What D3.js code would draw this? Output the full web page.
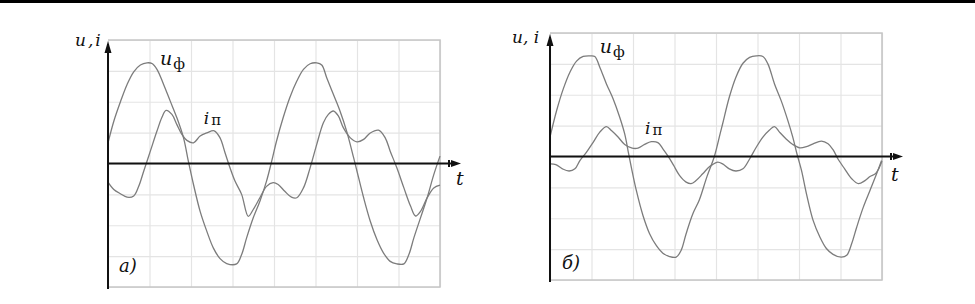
<!DOCTYPE html>
<html>
<head>
<meta charset="utf-8">
<script src="https://cdn.jsdelivr.net/npm/d3@7"></script>
<style>
  html, body { margin: 0; padding: 0; background: #fff; }
  svg { display: block; }
  .it { font-family: 'DejaVu Serif', 'Liberation Serif', serif; font-style: italic; fill: #111; }
  .up { font-family: 'DejaVu Serif', 'Liberation Serif', serif; fill: #111; }
</style>
</head>
<body>
<div id="chart"></div>
<script>
// grid: 8 divisions in t, -4..4 in u,i
const gridT = [0, 1, 2, 3, 4, 5, 6, 7, 8];
const gridV = [-4, -3, -2, -1, 0, 1, 2, 3, 4];

// panel a) phase voltage u_ф  [t, value]
const uA = [[0,0.67],[0.14,1.37],[0.3,2.0],[0.46,2.56],[0.62,2.97],[0.78,3.19],[0.94,3.26],[1.06,3.24],[1.18,3.05],
  [1.34,2.56],[1.5,2.02],[1.66,1.48],[1.82,0.83],[1.94,0.05],[2.06,-0.68],[2.22,-1.55],[2.38,-2.19],[2.54,-2.74],
  [2.7,-3.08],[2.86,-3.24],[3.1,-3.25],[3.22,-2.95],[3.34,-2.41],[3.5,-1.76],[3.66,-1.22],[3.82,-0.57],[3.94,0.05],
  [4.06,0.72],[4.22,1.48],[4.38,2.13],[4.55,2.67],[4.71,3.05],[4.87,3.23],[5.03,3.26],[5.15,3.19],[5.27,2.78],
  [5.43,2.24],[5.59,1.7],[5.75,1.05],[5.92,0.18],[6.0,-0.25],[6.16,-1.11],[6.32,-1.87],[6.48,-2.46],[6.64,-2.9],
  [6.8,-3.17],[6.96,-3.25],[7.13,-3.25],[7.25,-2.95],[7.37,-2.41],[7.53,-1.76],[7.69,-1.11],[7.85,-0.36],[8.0,0.24]];

// panel a) current i_п
const iA = [[0,-0.6],[0.14,-0.84],[0.3,-0.98],[0.46,-1.09],[0.62,-1.05],[0.74,-0.74],[0.86,-0.25],[1.02,0.4],
  [1.18,1.05],[1.3,1.5],[1.4,1.72],[1.54,1.59],[1.66,1.26],[1.78,0.94],[1.9,0.75],[2.06,0.67],[2.22,0.89],
  [2.38,0.99],[2.56,1.06],[2.7,0.83],[2.82,0.35],[2.94,-0.14],[3.06,-0.57],[3.22,-1.0],[3.38,-1.71],[3.5,-1.49],
  [3.66,-1.11],[3.82,-0.74],[3.98,-0.62],[4.1,-0.68],[4.26,-0.9],[4.42,-1.09],[4.55,-1.11],[4.71,-0.79],
  [4.87,-0.14],[5.03,0.62],[5.19,1.32],[5.31,1.59],[5.43,1.7],[5.55,1.54],[5.67,1.16],[5.84,0.83],[6.0,0.7],
  [6.16,0.78],[6.32,0.99],[6.52,1.08],[6.68,0.83],[6.8,0.4],[6.96,-0.14],[7.13,-0.79],[7.29,-1.38],[7.41,-1.7],
  [7.53,-1.55],[7.69,-1.11],[7.85,-0.79],[8.0,-0.7]];

// panel б) phase voltage u_ф
const uB = [[0,0.63],[0.16,1.49],[0.32,2.19],[0.48,2.73],[0.64,3.09],[0.8,3.24],[0.96,3.26],[1.08,3.24],[1.2,2.89],
  [1.36,2.35],[1.52,1.87],[1.68,1.27],[1.8,0.73],[1.9,0.05],[1.96,-0.35],[2.08,-1.1],[2.24,-1.91],[2.4,-2.5],
  [2.56,-2.88],[2.72,-3.13],[2.88,-3.24],[3.04,-3.26],[3.16,-3.04],[3.28,-2.5],[3.44,-1.86],[3.6,-1.4],
  [3.78,-0.66],[3.96,0],[4.1,0.74],[4.16,1.06],[4.32,1.92],[4.48,2.57],[4.65,3.02],[4.81,3.21],[4.97,3.26],
  [5.13,3.24],[5.25,3.0],[5.41,2.35],[5.57,1.81],[5.73,1.17],[5.85,0.63],[5.95,0.09],[6.06,-0.45],[6.18,-1.21],
  [6.34,-2.07],[6.5,-2.6],[6.66,-2.98],[6.82,-3.17],[7.02,-3.26],[7.15,-3.2],[7.27,-2.82],[7.39,-2.29],
  [7.55,-1.64],[7.71,-1.1],[7.87,-0.56],[7.99,-0.13]];

// panel б) current i_п
const iB = [[0,-0.24],[0.14,-0.26],[0.3,-0.4],[0.46,-0.47],[0.6,-0.4],[0.72,-0.13],[0.88,0.14],[1.04,0.46],
  [1.2,0.79],[1.36,0.97],[1.48,0.84],[1.64,0.63],[1.8,0.39],[1.98,0.27],[2.12,0.27],[2.28,0.39],[2.44,0.48],
  [2.6,0.45],[2.72,0.25],[2.86,-0.02],[2.98,-0.29],[3.12,-0.61],[3.28,-0.83],[3.4,-0.88],[3.52,-0.78],
  [3.68,-0.56],[3.84,-0.33],[3.92,-0.26],[4.04,-0.18],[4.16,-0.24],[4.32,-0.4],[4.48,-0.47],[4.65,-0.4],
  [4.81,-0.08],[4.97,0.3],[5.13,0.63],[5.29,0.86],[5.41,0.97],[5.53,0.79],[5.69,0.57],[5.85,0.39],[6.02,0.28],
  [6.18,0.32],[6.34,0.41],[6.54,0.5],[6.7,0.41],[6.82,0.22],[6.94,-0.08],[7.1,-0.4],[7.27,-0.72],[7.43,-0.88],
  [7.59,-0.78],[7.71,-0.65],[7.84,-0.56],[7.92,-0.4],[8.0,-0.15]];

const panels = [
  { left: 108, top: 40, u: uA, i: iA, tag: 'а', yLabel: 'u,i', ySpacing: 2,
    yLab: [75, 46], uLab: [1.25, 3.19], iLab: [2.31, 1.28], tagLab: [119, 272], tLab: [456, 185] },
  { left: 550, top: 33, u: uB, i: iB, tag: 'б', yLabel: 'u, i', ySpacing: 0,
    yLab: [512, 43], uLab: [1.2, 3.35], iLab: [2.29, 0.72], tagLab: [562, 269], tLab: [891, 181] }
];

const W = 332, H = 247;

let svg = d3.select('#chart').append('svg')
  .attr('width', 975)
  .attr('height', 304);

// black rule at the top of the page
svg.append('rect')
  .attr('x', 0).attr('y', 0)
  .attr('width', 975).attr('height', 3)
  .attr('fill', '#000');

panels.forEach(p => drawPanel(p));

function drawPanel(p) {
  let x = d3.scaleLinear().domain([0, 8]).range([p.left, p.left + W]);
  let y = d3.scaleLinear().domain([-4, 4]).range([p.top + H, p.top]);

  let g = svg.append('g').attr('class', 'panel');

  // Grid (vertical)
  g.append('g')
    .attr('class', 'grid grid--x')
    .attr('transform', 'translate(0,' + y(-4) + ')')
    .call(d3.axisBottom(x).tickValues(gridT).tickSize(-H).tickFormat(''))
    .call(s => s.select('.domain').remove())
    .selectAll('line').attr('stroke', '#e4e4e4').attr('stroke-width', 1.2);

  // Grid (horizontal)
  g.append('g')
    .attr('class', 'grid grid--y')
    .attr('transform', 'translate(' + x(0) + ',0)')
    .call(d3.axisLeft(y).tickValues(gridV).tickSize(-W).tickFormat(''))
    .call(s => s.select('.domain').remove())
    .selectAll('line').attr('stroke', '#e4e4e4').attr('stroke-width', 1.2);

  // frame: top, right, bottom
  g.append('path')
    .attr('d', 'M' + x(0) + ',' + y(4) + 'H' + x(8) + 'V' + y(-4) + 'H' + x(0))
    .attr('fill', 'none')
    .attr('stroke', '#c6c6c6')
    .attr('stroke-width', 1.6);

  // Curves
  let line = d3.line()
    .x(d => x(d[0]))
    .y(d => y(d[1]))
    .curve(d3.curveCatmullRom.alpha(0.5));

  g.append('g')
    .attr('class', 'lines')
    .selectAll('path')
    .data([p.u, p.i])
    .enter().append('path')
      .attr('d', d => line(d))
      .attr('fill', 'none')
      .attr('stroke', '#7c7c7c')
      .attr('stroke-width', 1.3)
      .attr('stroke-linejoin', 'round');

  // Axes with arrows
  let axisColor = '#111';
  g.append('line')
    .attr('x1', x(0)).attr('x2', x(0))
    .attr('y1', p.top + 4).attr('y2', y(-4) + 2)
    .attr('stroke', axisColor).attr('stroke-width', 2);
  g.append('path')
    .attr('d', 'M' + x(0) + ',' + (p.top + 1) + 'l-3.5,12h7z')
    .attr('fill', axisColor);

  let tipX = x(8) + 21;
  g.append('line')
    .attr('x1', x(0)).attr('x2', tipX - 4)
    .attr('y1', y(0)).attr('y2', y(0))
    .attr('stroke', axisColor).attr('stroke-width', 2);
  g.append('path')
    .attr('d', 'M' + tipX + ',' + y(0) + 'l-10,-3.5v7z')
    .attr('fill', axisColor);
  g.append('rect')
    .attr('x', tipX - 13).attr('y', y(0) - 3.5)
    .attr('width', 2).attr('height', 7)
    .attr('fill', axisColor);

  // Labels
  g.append('text')
    .attr('class', 'it')
    .attr('x', p.yLab[0]).attr('y', p.yLab[1])
    .attr('font-size', 17)
    .attr('letter-spacing', p.ySpacing)
    .text(p.yLabel);

  let uText = g.append('text')
    .attr('x', x(p.uLab[0])).attr('y', y(p.uLab[1]));
  uText.append('tspan').attr('class', 'it').attr('font-size', 19).text('u');
  uText.append('tspan').attr('class', 'up').attr('font-size', 15).attr('dy', 4).attr('dx', 1).text('ф');

  let iText = g.append('text')
    .attr('x', x(p.iLab[0])).attr('y', y(p.iLab[1]));
  iText.append('tspan').attr('class', 'it').attr('font-size', 17).text('i');
  iText.append('tspan').attr('class', 'up').attr('font-size', 15).attr('dy', 1).attr('dx', 2).text('п');

  g.append('text')
    .attr('class', 'it')
    .attr('x', p.tLab[0]).attr('y', p.tLab[1])
    .attr('font-size', 19)
    .text('t');

  g.append('text')
    .attr('class', 'it')
    .attr('x', p.tagLab[0]).attr('y', p.tagLab[1])
    .attr('font-size', 18)
    .text(p.tag + ')');
}
</script>
</body>
</html>
